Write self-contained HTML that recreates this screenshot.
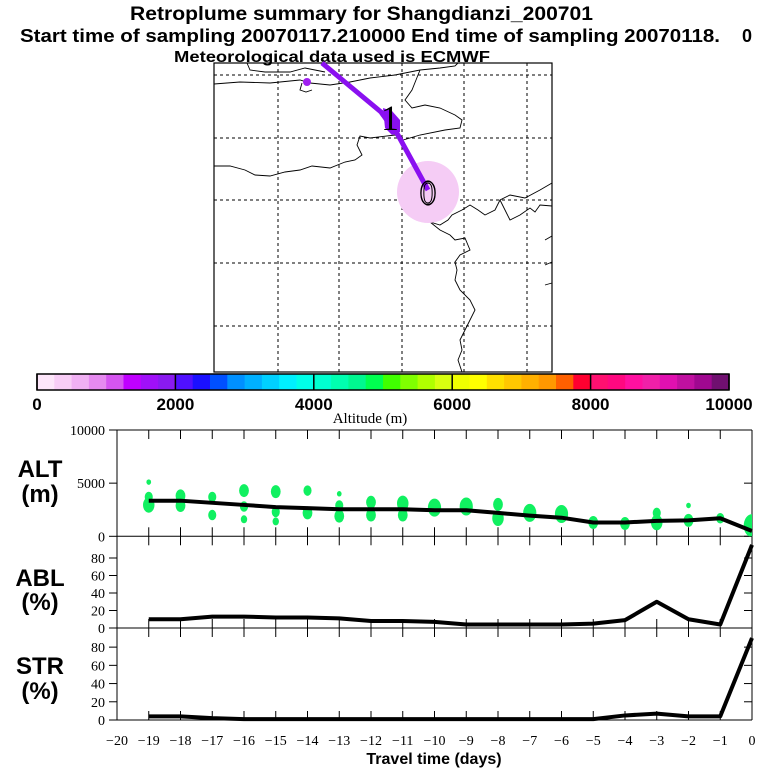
<!DOCTYPE html>
<html><head><meta charset="utf-8"><style>
body{margin:0;background:#fff}
svg{display:block;font-family:"Liberation Sans",sans-serif}
</style></head><body>
<svg id="c" width="768" height="768" viewBox="0 0 768 768">
<g font-weight="bold" fill="#000">
<text x="130" y="20" font-size="19" textLength="463" lengthAdjust="spacingAndGlyphs">Retroplume summary for Shangdianzi_200701</text>
<text x="20" y="42" font-size="18" textLength="700" lengthAdjust="spacingAndGlyphs">Start time of sampling 20070117.210000     End time of sampling 20070118.</text>
<text x="742" y="42" font-size="18">0</text>
<text x="174" y="62" font-size="16" textLength="316" lengthAdjust="spacingAndGlyphs">Meteorological data used is ECMWF</text>
</g>
<g id="map">
<rect x="214" y="63" width="338" height="309" fill="none" stroke="#000" stroke-width="1.2"/>
<g stroke="#000" stroke-dasharray="3,3" stroke-width="1">
<line x1="278" y1="63" x2="278" y2="372"/><line x1="339" y1="63" x2="339" y2="372"/><line x1="402" y1="63" x2="402" y2="372"/><line x1="464" y1="63" x2="464" y2="372"/><line x1="527" y1="63" x2="527" y2="372"/>
<line x1="214" y1="75" x2="552" y2="75"/><line x1="214" y1="138" x2="552" y2="138"/><line x1="214" y1="200" x2="552" y2="200"/><line x1="214" y1="263" x2="552" y2="263"/><line x1="214" y1="326" x2="552" y2="326"/>
</g>
<g fill="none" stroke="#000" stroke-width="0.9">
<path d="M247,63 L250,70 L265,72 L290,72 L305,68 L325,72"/>
<path d="M214,84 L240,82 L270,83 L300,80 L310,83 L330,85 L350,82 L370,78 L395,75 L420,70 L440,68 L455,66 L458,63"/>
<path d="M420,70 L412,90 L405,100 L412,108 L425,105 L440,108 L455,115 L462,120 L460,128 L445,130 L420,135 L403,140 L395,135"/>
<path d="M395,135 L370,138 L360,136 L357,145 L362,155 L355,160 L345,162 L330,168 L312,166 L300,170 L285,172 L270,176 L255,175 L245,170 L230,166 L214,166"/>
<path d="M552,183 L540,190 L525,198 L510,195 L500,200 L495,210 L485,215 L478,210 L470,205 L462,210 L452,215 L448,220 L440,225 L430,222 L440,230 L450,235 L455,240 L465,238 L470,250 L460,255 L455,262 L457,270 L455,280 L460,290 L470,300 L475,310 L470,320 L465,330 L460,340 L462,350 L458,360 L462,372"/>
<path d="M500,200 L505,210 L510,220 L520,215 L530,208 L535,212 L540,205 L552,206"/>
<path d="M545,240 L552,236 M545,265 L552,262 M545,285 L552,283"/>
<path d="M302,83 L300,90 L306,92 L312,90"/>
</g>
<circle cx="428" cy="192" r="31" fill="#f5ccf5"/>
<polyline points="322,63 381,112 391,126 398,135 428,190" fill="none" stroke="#8a10f0" stroke-width="5"/>
<path d="M383,108 L392,111 L400,120 L400,132 L392,135 L385,128 Z" fill="#8a10f0"/>
<circle cx="307" cy="82" r="4" fill="#a020f0"/>
<text x="390" y="130" font-family="Liberation Serif" font-size="36" text-anchor="middle">1</text>
<text x="428" y="204" font-family="Liberation Serif" font-size="34" text-anchor="middle" fill="none" stroke="#000" stroke-width="1">0</text>
<ellipse cx="428" cy="193" rx="7" ry="12" fill="none" stroke="#000" stroke-width="1.2"/>
</g>
<g id="cbar"></g>
<text x="370" y="423" font-family="Liberation Serif" font-size="15" text-anchor="middle">Altitude (m)</text>
<g id="charts"></g>
<g id="labels" font-weight="bold" font-size="24" text-anchor="middle">
<text x="40" y="477">ALT</text><text x="40" y="502">(m)</text>
<text x="40" y="586">ABL</text><text x="40" y="610">(%)</text>
<text x="40" y="674">STR</text><text x="40" y="699">(%)</text>
<text x="434" y="764" font-size="16">Travel time (days)</text>
</g>
</svg>
<script>
const NS="http://www.w3.org/2000/svg";
const cbarColors=["#fde6fa","#f8cdf6","#f0b0f3","#e68af0","#d555f0","#c000ff","#a010f8","#8a1af0","#5010ff","#1a10ff","#0050ff","#0090ff","#00b0ff","#00d0ff","#00f0ff","#00ffe8","#00ffd0","#00ffb0","#00f890","#00ff50","#40ff00","#80ff00","#b0ff00","#d8ff10","#f0ff00","#ffff00","#ffe000","#ffc800","#ffb000","#ff9800","#ff6000","#ff0030","#ff1070","#ff0880","#ff10a0","#f020a8","#e010b0","#c010a0","#a00890","#701070"];
const cbarTicks=[0,2000,4000,6000,8000,10000];
const days=[-19,-18,-17,-16,-15,-14,-13,-12,-11,-10,-9,-8,-7,-6,-5,-4,-3,-2,-1,0];
const altMean=[3350,3350,3150,2950,2750,2650,2550,2550,2550,2450,2450,2200,1950,1750,1300,1300,1450,1500,1700,500];
const ablPct=[10,10,13,13,12,12,11,8,8,7,4,4,4,4,5,9,30,10,4,95];
const strPct=[4,4,2,1,1,1,1,1,1,1,1,1,1,1,1,5,7,4,4,90];
const dotDays=[-19,-19,-19,-18,-18,-17,-17,-16,-16,-16,-15,-15,-15,-14,-14,-13,-13,-13,-12,-12,-11,-11,-10,-9,-8,-8,-7,-6,-5,-4,-3,-3,-2,-2,-1,0];
const dotAlts=[5100,3700,2950,3800,2900,3700,2000,4300,2800,1600,4200,2300,1400,4300,2200,4000,2900,1900,3200,2000,3100,2000,2700,2800,3000,1700,2200,2100,1300,1200,2200,1300,2900,1500,1700,1000];
const dotSizes=[1,3,5,4,4,3,3,4,3,2,4,3,2,3,4,1,3,4,4,4,5,4,6,6,4,5,6,6,4,4,3,5,1,4,3,8];
const xTickLabels=["-20","-19","-18","-17","-16","-15","-14","-13","-12","-11","-10","-9","-8","-7","-6","-5","-4","-3","-2","-1","0"];
const altTicks=[0,5000,10000];
const pctTicks=[0,20,40,60,80];

const svg=document.getElementById('c');
function mk(tag,attrs,parent){const e=document.createElementNS(NS,tag);for(const k in attrs)e.setAttribute(k,attrs[k]);(parent||svg).appendChild(e);return e;}
const cb=document.getElementById('cbar');
const cbX0=37,cbX1=729,cbY=374,cbH=16;
const cbx=v=>cbX0+(cbX1-cbX0)*v/10000;
cbarColors.forEach((c,i)=>{const r=mk('rect',{x:cbx(i*250),y:cbY,width:cbx((i+1)*250)-cbx(i*250)+0.5,height:cbH,fill:c},cb);

});
mk('rect',{x:cbX0,y:cbY,width:cbX1-cbX0,height:cbH,fill:'none',stroke:'#000','stroke-width':1.5},cb);
cbarTicks.forEach(v=>{mk('line',{x1:cbx(v),x2:cbx(v),y1:cbY,y2:cbY+cbH,stroke:'#000','stroke-width':1.5},cb);
const t=mk('text',{x:cbx(v),y:410,'text-anchor':'middle','font-size':17,'font-weight':'bold'},cb);t.textContent=v;

});
const X0=117,X1=752;
const xs=d=>X0+(X1-X0)*(d+20)/20;
const ch=document.getElementById('charts');
const panels=[
 {top:430,bot:536.3,max:10000,ticks:altTicks,name:'alt'},
 {top:536.3,bot:628,max:104.8,ticks:pctTicks,name:'abl'},
 {top:628,bot:720,max:101,ticks:pctTicks,name:'str'}];
panels.forEach(p=>{
 const ys=v=>p.bot-(p.bot-p.top)*v/p.max;p.ys=ys;
 const g=mk('g',{},ch);
 
 
 mk('line',{x1:X0,x2:X0,y1:p.top,y2:p.bot,stroke:'#000'},g);
 mk('line',{x1:X1,x2:X1,y1:p.top,y2:p.bot,stroke:'#000'},g);
 mk('line',{x1:X0,x2:X1,y1:p.bot,y2:p.bot,stroke:'#000'},g);
 if(p.name==='alt')mk('line',{x1:X0,x2:X1,y1:p.top,y2:p.top,stroke:'#000'},g);
 for(let d=-19;d<0;d++){mk('line',{x1:xs(d),x2:xs(d),y1:p.top,y2:p.top+9,stroke:'#000'},g);mk('line',{x1:xs(d),x2:xs(d),y1:p.bot,y2:p.bot-9,stroke:'#000'},g);}
 p.ticks.forEach(v=>{
  mk('line',{x1:X0,x2:X0-8,y1:ys(v),y2:ys(v),stroke:'#000'},g);
  mk('line',{x1:X1,x2:X1-8,y1:ys(v),y2:ys(v),stroke:'#000'},g);
  const t=mk('text',{x:X0-12,y:ys(v)+5,'text-anchor':'end','font-family':'Liberation Serif','font-size':14},g);t.textContent=v;
  
  
 });
});
const clip=mk('clipPath',{id:'altclip'},ch);mk('rect',{x:X0,y:430,width:X1-X0,height:106.3},clip);
const dg=mk('g',{'clip-path':'url(#altclip)'},ch);
dotDays.forEach((d,i)=>{const e=mk('ellipse',{cx:xs(d),cy:panels[0].ys(dotAlts[i]),rx:dotSizes[i]*0.85+1.5,ry:dotSizes[i]*1.25+1.5,fill:'#10f060'},dg);

});
function line(vals,p,name){const pts=days.map((d,i)=>xs(d)+','+p.ys(vals[i])).join(' ');
const l=mk('polyline',{points:pts,fill:'none',stroke:'#000','stroke-width':4,'stroke-linejoin':'round'},ch);

}
line(altMean,panels[0],'mean-altitude-line');
line(ablPct,panels[1],'abl-fraction-line');
line(strPct,panels[2],'stratosphere-fraction-line');
xTickLabels.forEach(s=>{const d=+s;const t=mk('text',{x:xs(d),y:745,'text-anchor':'middle','font-family':'Liberation Serif','font-size':14},ch);t.textContent=s.replace('-','\u2212');

});
</script>
</body></html>
